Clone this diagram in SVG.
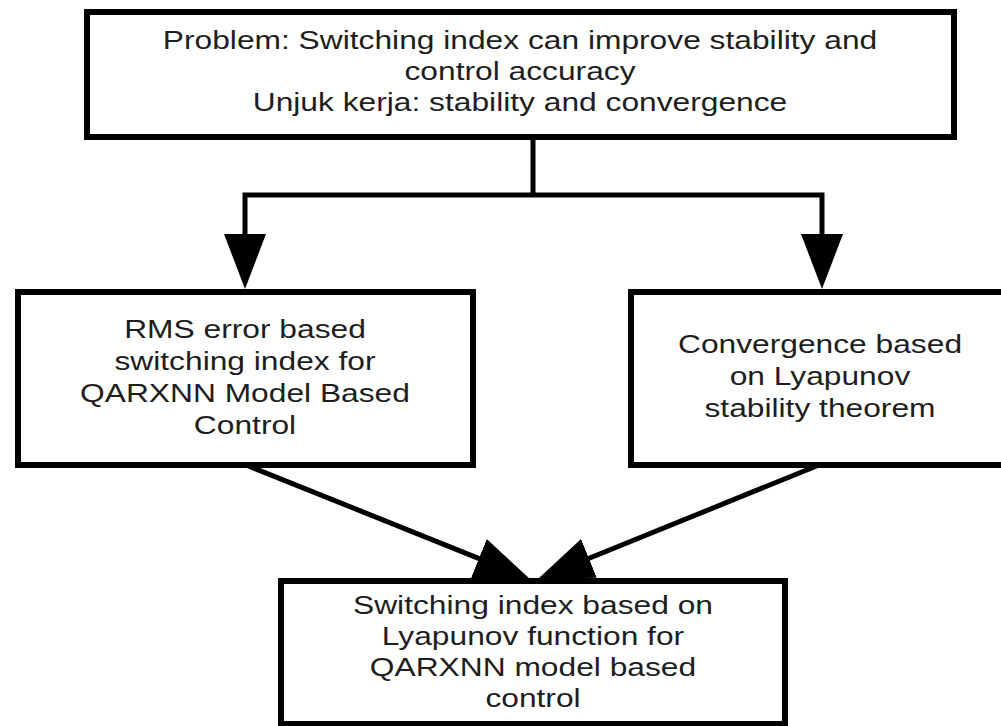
<svg xmlns="http://www.w3.org/2000/svg" width="1001" height="726" viewBox="0 0 1001 726">
  <style>
    .box { fill: #ffffff; stroke: #000000; stroke-width: 6; stroke-linejoin: miter; }
    .lbl { font-family: "Liberation Sans", Arial, sans-serif; font-size: 25px; fill: #1e1e1e; text-anchor: middle; }
    .conn { fill: none; stroke: #000000; stroke-width: 5; stroke-linejoin: miter; stroke-linecap: butt; }
  </style>
  <defs>
    <marker id="arrow" markerUnits="userSpaceOnUse" viewBox="0 -22 56 44" refX="35" refY="0" markerWidth="56" markerHeight="44" orient="auto">
      <path d="M0,-21 L55,0 L0,21 Z" fill="#000000"/>
    </marker>
  </defs>
  <rect x="0" y="0" width="1001" height="726" fill="#ffffff"/>

  <g id="connectors">
    <path class="conn" d="M533,137 V195"/>
    <path class="conn" d="M533,195 H245 V269" marker-end="url(#arrow)"/>
    <path class="conn" d="M533,195 H822 V269" marker-end="url(#arrow)"/>
    <path class="conn" d="M246,465 L511.4,571.5" marker-end="url(#arrow)"/>
    <path class="conn" d="M819,465 L556.5,571.5" marker-end="url(#arrow)"/>
  </g>

  <g id="node-problem">
    <rect class="box" x="87" y="12" width="867" height="125"/>
    <g transform="translate(520,0) scale(1.27,1)">
      <text class="lbl" x="0" y="49">Problem: Switching index can improve stability and</text>
      <text class="lbl" x="0" y="80.5">control accuracy</text>
      <text class="lbl" x="0" y="111">Unjuk kerja: stability and convergence</text>
    </g>
  </g>

  <g id="node-rms">
    <rect class="box" x="18" y="292" width="455" height="173"/>
    <g transform="translate(245,0) scale(1.27,1)">
      <text class="lbl" x="0" y="338">RMS error based</text>
      <text class="lbl" x="0" y="370">switching index for</text>
      <text class="lbl" x="0" y="402">QARXNN Model Based</text>
      <text class="lbl" x="0" y="434">Control</text>
    </g>
  </g>

  <g id="node-convergence">
    <rect class="box" x="631" y="292" width="380" height="173"/>
    <g transform="translate(820,0) scale(1.27,1)">
      <text class="lbl" x="0" y="353">Convergence based</text>
      <text class="lbl" x="0" y="385">on Lyapunov</text>
      <text class="lbl" x="0" y="417">stability theorem</text>
    </g>
  </g>

  <g id="node-result">
    <rect class="box" x="281" y="581" width="504" height="143"/>
    <g transform="translate(533,0) scale(1.27,1)">
      <text class="lbl" x="0" y="614">Switching index based on</text>
      <text class="lbl" x="0" y="645">Lyapunov function for</text>
      <text class="lbl" x="0" y="676">QARXNN model based</text>
      <text class="lbl" x="0" y="707">control</text>
    </g>
  </g>
</svg>
